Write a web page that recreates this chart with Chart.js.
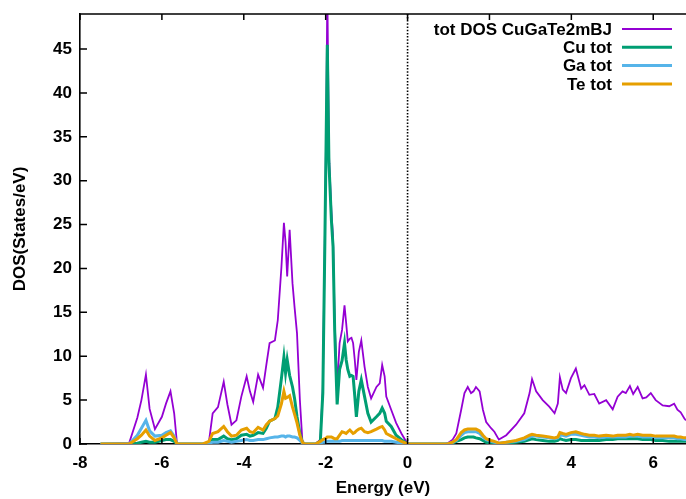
<!DOCTYPE html>
<html>
<head>
<meta charset="utf-8">
<script src="https://cdn.jsdelivr.net/npm/chart.js@4/dist/chart.umd.min.js"></script>
<style>
  body { margin: 0; background: #fff; }
  canvas { display: block; }
</style>
</head>
<body>
<canvas id="dosChart" width="686" height="499"></canvas>
<script>
// energy grid (eV)
const energy = [
  -7.5, -6.8, -6.6, -6.5, -6.39, -6.3, -6.17, -6.0, -5.9, -5.79, -5.7, -5.63,
  -5.0, -4.85, -4.76, -4.63, -4.49, -4.40, -4.30, -4.18, -4.06, -3.93, -3.85, -3.77, -3.65, -3.53, -3.45,
  -3.37, -3.24, -3.17, -3.08, -3.02, -2.98, -2.94, -2.88, -2.81, -2.76, -2.70, -2.63, -2.57, -2.52,
  -2.25, -2.13, -2.07, -2.02, -1.98, -1.96, -1.92, -1.86, -1.82, -1.78, -1.72, -1.66, -1.60, -1.54,
  -1.50, -1.46, -1.41, -1.37, -1.33, -1.29, -1.25, -1.19, -1.13, -1.05, -0.97, -0.89, -0.76, -0.68,
  -0.62, -0.56, -0.52, -0.40, -0.28, -0.15, 0.0,
  0.9, 0.98, 1.10, 1.19, 1.31, 1.39, 1.47, 1.55, 1.61, 1.67, 1.76, 1.84, 1.92, 2.04, 2.12, 2.23, 2.41,
  2.65, 2.85, 2.98, 3.04, 3.14, 3.30, 3.46, 3.59, 3.67, 3.72, 3.79, 3.87, 3.99, 4.11, 4.24, 4.32, 4.44,
  4.56, 4.68, 4.85, 5.01, 5.13, 5.25, 5.33, 5.43, 5.51, 5.62, 5.74, 5.83, 5.94, 6.06, 6.23, 6.39, 6.51,
  6.59, 6.67, 6.76, 6.8
];

const totDos = [
  0, 0.1, 3.0, 5.0, 7.9, 4.0, 1.7, 3.1, 4.6, 6.0, 3.5, 0,
  0, 0.3, 3.5, 4.2, 7.1, 4.5, 2.2, 2.7, 5.4, 7.7, 6.0, 4.8, 7.9, 6.4, 9.0,
  11.5, 11.8, 14.1, 20.2, 25.2, 23, 19.1, 24.4, 18.3, 15.6, 12.6, 5.0, 0.4, 0,
  0, 0.5, 6.3, 23.5, 39, 52, 33, 26.5, 23.5, 14, 6.5, 11.5, 13, 15.8,
  13.8, 11.7, 12.0, 12.1, 11.5, 9.6, 7.3, 10.5, 11.8, 8.8, 6.5, 5.2, 6.5, 6.9,
  9.0, 7.7, 5.4, 3.9, 2.4, 1.2, 0,
  0, 0.1, 0.5, 1.2, 3.9, 5.8, 6.5, 5.8, 6.0, 6.5, 6.0, 3.9, 2.5, 1.8, 1.4, 0.5, 1.0,
  2.2, 3.5, 5.8, 7.4, 6.0, 5.0, 4.25, 3.5, 4.6, 7.6, 6.2, 5.8, 7.5, 8.6, 6.3, 6.7, 5.6,
  5.7, 4.6, 5.0, 3.95, 5.4, 6.0, 5.8, 6.6, 5.7, 6.5, 5.2, 5.3, 5.8, 5.0, 4.4, 4.3, 4.6,
  3.9, 3.6, 2.9, 2.7
];

const cuTot = [
  0, 0, 0.1, 0.2, 0.3, 0.2, 0.2, 0.4, 0.5, 0.5, 0.3, 0,
  0, 0.1, 0.5, 0.5, 0.9, 0.6, 0.5, 0.6, 1.0, 1.1, 0.9, 1.0, 1.3, 1.2, 1.8,
  2.6, 2.9, 4.2, 7.5, 9.9, 8.1, 9.6, 7.8, 6.5, 5.2, 3.1, 1.2, 0.2, 0,
  0, 0.3, 5.8, 22.9, 38, 45.5, 32, 25.5, 22.5, 13, 4.5, 8.5, 9.5, 11.5,
  9.6, 8.5, 7.7, 7.8, 7.7, 5.5, 3.1, 6.0, 7.3, 5.4, 3.5, 2.5, 3.1, 3.5,
  4.1, 3.5, 2.6, 2.0, 1.0, 0.5, 0,
  0, 0, 0.1, 0.3, 0.5, 0.7, 0.8, 0.8, 0.8, 0.7, 0.6, 0.4, 0.2, 0.1, 0.1, 0.05, 0.1,
  0.2, 0.3, 0.5, 0.6, 0.5, 0.4, 0.3, 0.3, 0.4, 0.6, 0.5, 0.4, 0.5, 0.5, 0.4, 0.4, 0.4,
  0.4, 0.4, 0.5, 0.5, 0.6, 0.6, 0.6, 0.6, 0.6, 0.6, 0.5, 0.5, 0.5, 0.4, 0.4, 0.3, 0.3,
  0.3, 0.3, 0.3, 0.3
];

const gaTot = [
  0, 0, 1.0, 1.8, 2.7, 1.5, 0.9, 1.0, 1.3, 1.5, 0.9, 0,
  0, 0.1, 0.2, 0.2, 0.4, 0.3, 0.2, 0.3, 0.4, 0.5, 0.4, 0.4, 0.5, 0.5, 0.6,
  0.7, 0.8, 0.8, 0.9, 0.9, 0.8, 0.9, 0.9, 0.8, 0.8, 0.7, 0.4, 0.1, 0,
  0, 0.1, 0.2, 0.2, 0.3, 0.3, 0.3, 0.3, 0.3, 0.3, 0.3, 0.3, 0.4, 0.4,
  0.4, 0.4, 0.4, 0.4, 0.4, 0.4, 0.4, 0.4, 0.4, 0.4, 0.4, 0.4, 0.4, 0.4,
  0.4, 0.3, 0.3, 0.3, 0.2, 0.1, 0,
  0, 0, 0.2, 0.4, 1.0, 1.3, 1.4, 1.4, 1.4, 1.4, 1.2, 0.8, 0.5, 0.3, 0.2, 0.1, 0.2,
  0.3, 0.5, 0.8, 0.9, 0.9, 0.8, 0.7, 0.6, 0.7, 1.0, 1.0, 0.9, 1.1, 1.1, 1.0, 0.9, 0.8,
  0.8, 0.7, 0.8, 0.8, 0.8, 0.8, 0.8, 0.9, 0.9, 0.9, 0.8, 0.8, 0.8, 0.7, 0.7, 0.7, 0.7,
  0.6, 0.6, 0.5, 0.5
];

const teTot = [
  0, 0, 0.6, 1.0, 1.6, 0.9, 0.4, 0.7, 1.0, 1.3, 0.7, 0,
  0, 0.3, 1.2, 1.4, 2.0, 1.4, 0.9, 1.0, 1.6, 1.8, 1.4, 1.3, 1.9, 1.6, 2.2,
  2.6, 2.9, 3.2, 4.6, 6.0, 5.2, 5.3, 5.5, 4.2, 3.4, 2.4, 1.0, 0.2, 0,
  0, 0.3, 0.5, 0.6, 0.7, 0.8, 0.8, 0.8, 0.7, 0.6, 0.6, 1.0, 1.4, 1.3,
  1.2, 1.4, 1.6, 1.4, 1.2, 1.3, 1.5, 1.7, 1.8, 1.4, 1.3, 1.4, 1.7, 1.9,
  2.0, 1.6, 1.2, 0.9, 0.6, 0.3, 0,
  0, 0, 0.2, 0.5, 1.3, 1.6, 1.7, 1.7, 1.7, 1.7, 1.5, 1.0, 0.6, 0.4, 0.3, 0.1, 0.2,
  0.4, 0.7, 1.0, 1.1, 1.0, 0.9, 0.8, 0.7, 0.8, 1.3, 1.2, 1.1, 1.3, 1.4, 1.2, 1.1, 1.0,
  1.0, 0.9, 1.0, 0.9, 1.0, 1.0, 1.0, 1.1, 1.0, 1.1, 1.0, 1.0, 1.0, 0.9, 0.9, 0.9, 0.9,
  0.8, 0.8, 0.7, 0.7
];

const seriesNames = ["tot DOS CuGaTe2mBJ", "Cu tot", "Ga tot", "Te tot"];
const seriesColors = ["#9400d3", "#009e73", "#56b4e9", "#e69f00"];
const xTicks = [-8, -6, -4, -2, 0, 2, 4, 6];
const yTicks = [0, 5, 10, 15, 20, 25, 30, 35, 40, 45];

const FONT = "'Liberation Sans', Arial, sans-serif";

function toPoints(values) {
  return values.map((v, i) => ({ x: energy[i], y: v }));
}

// gnuplot-like frame: inward ticks, top border, dotted Fermi line, legend
const gnuplotFrame = {
  id: "gnuplotFrame",
  beforeDatasetsDraw(chart) {
    const { ctx, chartArea } = chart;
    const x0 = chart.scales.x.getPixelForValue(0);
    ctx.save();
    ctx.strokeStyle = "#000";
    ctx.lineWidth = 1.6;
    ctx.setLineDash([1.5, 1.7]);
    ctx.beginPath();
    ctx.moveTo(x0, chartArea.bottom);
    ctx.lineTo(x0, chartArea.top);
    ctx.stroke();
    ctx.restore();
  },
  afterDraw(chart) {
    const { ctx, chartArea } = chart;
    const xs = chart.scales.x;
    const ys = chart.scales.y;
    ctx.save();
    ctx.strokeStyle = "#000";
    ctx.lineWidth = 1.5;
    ctx.beginPath();
    ctx.moveTo(chartArea.left, chartArea.top);
    ctx.lineTo(chartArea.right + 2, chartArea.top);
    xTicks.forEach((t) => {
      const px = xs.getPixelForValue(t);
      ctx.moveTo(px, chartArea.bottom);
      ctx.lineTo(px, chartArea.bottom - 6);
      ctx.moveTo(px, chartArea.top);
      ctx.lineTo(px, chartArea.top + 6);
    });
    yTicks.forEach((t) => {
      const py = ys.getPixelForValue(t);
      ctx.moveTo(chartArea.left, py);
      ctx.lineTo(chartArea.left + 7, py);
    });
    ctx.stroke();

    // legend: text right aligned, then a line sample
    ctx.font = "bold 17px " + FONT;
    ctx.textAlign = "right";
    ctx.textBaseline = "middle";
    ctx.fillStyle = "#000";
    seriesNames.forEach((name, i) => {
      const y = 29 + i * 18.3;
      ctx.fillText(name, 612, y + 1);
      ctx.strokeStyle = seriesColors[i];
      ctx.lineWidth = i === 0 ? 2 : 3;
      ctx.beginPath();
      ctx.moveTo(622, y);
      ctx.lineTo(672, y);
      ctx.stroke();
    });
    ctx.restore();
  },
};

const labelFont = { family: FONT, size: 17, weight: "bold" };

const ctx = document.getElementById("dosChart");
new Chart(ctx, {
  type: "line",
  data: {
    datasets: [
      { label: seriesNames[0], data: toPoints(totDos), borderColor: seriesColors[0], borderWidth: 1.8, order: 3 },
      { label: seriesNames[1], data: toPoints(cuTot), borderColor: seriesColors[1], borderWidth: 3, order: 2 },
      { label: seriesNames[2], data: toPoints(gaTot), borderColor: seriesColors[2], borderWidth: 3, order: 1 },
      { label: seriesNames[3], data: toPoints(teTot), borderColor: seriesColors[3], borderWidth: 3, order: 0 },
    ],
  },
  options: {
    responsive: false,
    animation: false,
    parsing: false,
    elements: { point: { radius: 0 }, line: { tension: 0, fill: false } },
    layout: { padding: { top: 14, right: 0, left: 0, bottom: 0 } },
    plugins: { legend: { display: false }, tooltip: { enabled: false } },
    scales: {
      x: {
        type: "linear",
        min: -8,
        max: 6.8,
        afterBuildTicks: (scale) => { scale.ticks = xTicks.map((v) => ({ value: v })); },
        afterFit: (scale) => { scale.height = 55; scale.paddingLeft = 0; scale.paddingRight = 0; },
        grid: { display: false, drawTicks: false },
        border: { display: true, color: "#000", width: 1.6 },
        ticks: { color: "#000", font: labelFont, padding: 9, maxRotation: 0 },
        title: { display: true, text: "Energy (eV)", color: "#000", font: labelFont, padding: 0 },
      },
      y: {
        min: 0,
        max: 49,
        afterBuildTicks: (scale) => { scale.ticks = yTicks.map((v) => ({ value: v })); },
        afterFit: (scale) => { scale.width = 80; scale.paddingTop = 0; scale.paddingBottom = 0; },
        grid: { display: false, drawTicks: false },
        border: { display: true, color: "#000", width: 1.6 },
        ticks: { color: "#000", font: labelFont, padding: 8 },
        title: { display: true, text: "DOS(States/eV)", color: "#000", font: labelFont, padding: { top: 10, bottom: 4 } },
      },
    },
  },
  plugins: [gnuplotFrame],
});
</script>
</body>
</html>
